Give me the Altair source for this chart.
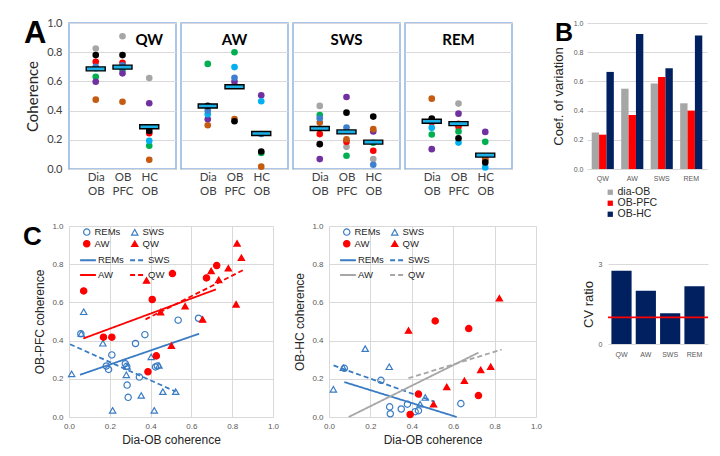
import altair as alt
import pandas as pd

FONT_A = "Lato"
FONT_B = "Liberation Sans"

# ---------------- Panel A: per-animal coherence ----------------
pairs = ["Dia-OB", "OB-PFC", "HC-OB"]
# animal colours (drawing order: black last)
animal_colors = ["#a6a6a6", "#ff0000", "#00b050", "#7030a0", "#c55a11", "#00b0f0", "#3f7fcf", "#000000"]

qw_dia_ob = [0.825, 0.734, 0.632, 0.598, 0.475, 0.690, 0.700, 0.780]
qw_ob_pfc = [0.909, 0.727, 0.680, 0.655, 0.461, 0.700, 0.710, 0.780]
qw_hc_ob = [0.623, 0.245, 0.159, 0.450, 0.063, 0.193, 0.280, 0.261]
aw_dia_ob = [None, None, 0.720, 0.341, 0.300, 0.375, 0.400, 0.432]
aw_ob_pfc = [None, None, 0.800, 0.598, 0.342, 0.698, 0.625, 0.327]
aw_hc_ob = [None, None, 0.110, 0.505, 0.016, 0.464, 0.240, 0.120]
sws_dia_ob = [0.432, 0.239, 0.370, 0.068, 0.318, None, 0.348, 0.170]
sws_ob_pfc = [0.152, 0.186, 0.091, 0.493, 0.204, None, 0.284, 0.386]
sws_hc_ob = [0.068, 0.125, 0.180, 0.257, 0.273, None, 0.029, 0.359]
rem_dia_ob = [0.330, 0.320, 0.236, 0.136, 0.482, 0.282, None, 0.345]
rem_ob_pfc = [0.448, 0.289, 0.257, 0.379, 0.310, 0.181, None, 0.211]
rem_hc_ob = [None, 0.072, 0.186, 0.254, 0.060, 0.011, None, 0.045]

qw_means = [0.686, 0.698, 0.289]
aw_means = [0.432, 0.563, 0.243]
sws_means = [0.277, 0.254, 0.184]
rem_means = [0.327, 0.311, 0.095]

# ---------------- Panel B: coefficient of variation ----------------
cv_states = ["QW", "AW", "SWS", "REM"]
cv_series = ["dia-OB", "OB-PFC", "OB-HC"]
cv_colors = ["#a6a6a6", "#ff0000", "#002060"]
cv_dia_ob = [0.250, 0.550, 0.585, 0.450]
cv_ob_pfc = [0.235, 0.370, 0.630, 0.400]
cv_ob_hc = [0.665, 0.925, 0.690, 0.915]

# ---------------- CV ratio ----------------
cv_ratio = [2.75, 2.00, 1.15, 2.17]

# ---------------- Panel C scatter ----------------
c_series = ["REMs", "SWS", "AW", "QW"]
c_fits = ["REMs_fit", "SWS_fit", "AW_fit", "QW_fit"]

# left: OB-PFC vs Dia-OB
l_rems_x = [0.058, 0.210, 0.183, 0.194, 0.276, 0.283, 0.326, 0.372, 0.345, 0.285, 0.290, 0.424, 0.433, 0.535, 0.635]
l_rems_y = [0.436, 0.325, 0.267, 0.249, 0.279, 0.265, 0.385, 0.431, 0.209, 0.167, 0.103, 0.262, 0.267, 0.507, 0.517]
l_sws_x = [0.013, 0.072, 0.060, 0.166, 0.281, 0.285, 0.214, 0.354, 0.403, 0.418, 0.441, 0.460, 0.523]
l_sws_y = [0.226, 0.551, 0.436, 0.386, 0.221, 0.265, 0.035, 0.113, 0.315, 0.035, 0.270, 0.133, 0.133]
l_aw_x = [0.072, 0.169, 0.210, 0.408, 0.507, 0.428, 0.387, 0.674, 0.724]
l_aw_y = [0.660, 0.418, 0.418, 0.615, 0.751, 0.320, 0.237, 0.728, 0.793]
l_qw_x = [0.380, 0.449, 0.569, 0.502, 0.655, 0.697, 0.734, 0.781, 0.819, 0.824, 0.845]
l_qw_y = [0.715, 0.549, 0.580, 0.373, 0.511, 0.765, 0.718, 0.779, 0.590, 0.909, 0.834]
# fit line end points (x0, y0, x1, y1)
l_fit_rems = [0.054, 0.221, 0.638, 0.436]
l_fit_sws = [0.005, 0.381, 0.523, 0.133]
l_fit_aw = [0.070, 0.411, 0.720, 0.668]
l_fit_qw = [0.375, 0.511, 0.852, 0.768]

# middle: OB-HC vs Dia-OB
m_rems_x = [0.074, 0.251, 0.293, 0.296, 0.349, 0.379, 0.416, 0.432, 0.637]
m_rems_y = [0.255, 0.192, 0.053, 0.017, 0.042, 0.067, 0.028, 0.033, 0.070]
m_sws_x = [0.021, 0.069, 0.175, 0.291, 0.465, 0.440]
m_sws_y = [0.145, 0.258, 0.358, 0.263, 0.102, 0.067]
m_aw_x = [0.513, 0.675, 0.432, 0.722, 0.392]
m_aw_y = [0.503, 0.463, 0.120, 0.112, 0.013]
m_qw_x = [0.384, 0.823, 0.569, 0.654, 0.733, 0.781, 0.505]
m_qw_y = [0.453, 0.622, 0.158, 0.190, 0.247, 0.263, 0.067]
m_fit_rems = [0.074, 0.183, 0.617, 0.000]
m_fit_sws = [0.022, 0.270, 0.510, 0.080]
m_fit_aw = [0.095, 0.000, 0.722, 0.337]
m_fit_qw = [0.384, 0.203, 0.834, 0.353]

BLUE = "#3a7cc3"
RED = "#ff0000"
GRID = "#d9d9d9"
ticks01 = [0.0, 0.2, 0.4, 0.6, 0.8, 1.0]


def letter_layer(letter, x, y, size):
    return alt.Chart(pd.DataFrame({"t": [letter]})).mark_text(
        font=FONT_B, fontSize=size, fontWeight="bold", align="left",
        baseline="alphabetic", color="#000000"
    ).encode(x=alt.value(x), y=alt.value(y), text="t:N")


def a_panel(state, cols, means, title_pair, first):
    rows = []
    for p, vals in zip(pairs, cols):
        for k, (c, v) in enumerate(zip(animal_colors, vals)):
            if v is not None:
                rows.append({"pair": p, "value": v, "col": c, "k": k})
    pts = pd.DataFrame(rows)
    mdf = pd.DataFrame({"pair": pairs, "mean": means})
    tdf = pd.DataFrame({"pair": [title_pair], "y": [0.885], "label": [state]})

    xscale = alt.Scale(type="point", padding=1, domain=pairs)
    xaxis = alt.Axis(title=None, labelExpr="split(datum.label, '-')", labelAngle=0,
                     ticks=False, domain=False, grid=False, labelFont=FONT_A,
                     labelFontSize=11.5, labelColor="#404040", labelPadding=2,
                     labelLineHeight=14)
    yscale = alt.Scale(domain=[0, 1], nice=False, zero=False)
    if first:
        yaxis = alt.Axis(values=ticks01, format=".1f", title="Coherence", titleFont=FONT_A,
                         titleFontSize=15, titleFontWeight="normal", titleColor="#262626",
                         labelFont=FONT_A, labelFontSize=11, labelColor="#404040",
                         labelFlush=False, ticks=False, domain=False, gridColor=GRID,
                         labelPadding=7, titlePadding=6)
    else:
        yaxis = alt.Axis(values=ticks01, labels=False, ticks=False, domain=False,
                         title=None, gridColor=GRID)
    x = alt.X("pair:N", scale=xscale, axis=xaxis)

    pts_layer = alt.Chart(pts).mark_circle(size=44, opacity=1).encode(
        x=x, y=alt.Y("value:Q", scale=yscale, axis=yaxis),
        color=alt.Color("col:N", scale=None), order=alt.Order("k:Q"))
    mean_layer = alt.Chart(mdf).mark_tick(
        size=19, thickness=4, color="#1cb0e6", stroke="#000000", strokeWidth=1.4, opacity=1
    ).encode(x=x, y=alt.Y("mean:Q", scale=yscale, axis=yaxis))
    text_layer = alt.Chart(tdf).mark_text(
        font=FONT_A, fontSize=15, fontWeight="bold", color="#000000"
    ).encode(x=x, y=alt.Y("y:Q", scale=yscale, axis=yaxis), text="label:N")
    layers = [pts_layer, mean_layer, text_layer]
    if first:
        layers.append(letter_layer("A", -45, 20, 31))
    return alt.layer(*layers).properties(
        width=107, height=146,
        view=alt.ViewBackground(stroke="#8eb4e3", strokeWidth=1.5))


a1 = a_panel("QW", [qw_dia_ob, qw_ob_pfc, qw_hc_ob], qw_means, "HC-OB", True)
a2 = a_panel("AW", [aw_dia_ob, aw_ob_pfc, aw_hc_ob], aw_means, "OB-PFC", False)
a3 = a_panel("SWS", [sws_dia_ob, sws_ob_pfc, sws_hc_ob], sws_means, "OB-PFC", False)
a4 = a_panel("REM", [rem_dia_ob, rem_ob_pfc, rem_hc_ob], rem_means, "OB-PFC", False)

# ---- Panel B ----
brows = []
for s, vals in zip(cv_series, [cv_dia_ob, cv_ob_pfc, cv_ob_hc]):
    for st, v in zip(cv_states, vals):
        brows.append({"state": st, "series": s, "cv": v})
bdf = pd.DataFrame(brows)
b_bars = alt.Chart(bdf).mark_bar().encode(
    x=alt.X("state:N", sort=cv_states,
            scale=alt.Scale(paddingInner=0.25, paddingOuter=0.16),
            axis=alt.Axis(title=None, labelAngle=0, ticks=False, domain=False,
                          labelFont=FONT_B, labelFontSize=7, labelColor="#595959",
                          labelPadding=5)),
    xOffset=alt.XOffset("series:N", sort=cv_series,
                        scale=alt.Scale(paddingInner=0, paddingOuter=0)),
    y=alt.Y("cv:Q", scale=alt.Scale(domain=[0, 1], nice=False),
            axis=alt.Axis(values=ticks01, format=".1f", title="Coef. of variation",
                          titleFont=FONT_B, titleFontSize=13, titleFontWeight="normal",
                          titleColor="#262626", labelFont=FONT_B, labelFontSize=7,
                          labelColor="#595959", labelFlush=False, ticks=False, domain=False,
                          gridColor=GRID, labelPadding=4, titlePadding=8)),
    color=alt.Color("series:N", sort=cv_series,
                    scale=alt.Scale(domain=cv_series, range=cv_colors),
                    legend=alt.Legend(orient="none", legendX=18, legendY=164, title=None,
                                      symbolType="square", symbolSize=28,
                                      labelFont=FONT_B, labelFontSize=10.5,
                                      labelColor="#262626", rowPadding=0,
                                      labelOffset=2, padding=0)),
)
b_panel = alt.layer(b_bars, letter_layer("B", -32, 18, 25)).properties(
    width=120, height=146, view=alt.ViewBackground(stroke="transparent"))


# ---- Panel C ----
def c_panel(xs_list, ys_list, fits, ytitle, line_colors, width, letter):
    rows = []
    for s, xs, ys in zip(c_series, xs_list, ys_list):
        for a, b in zip(xs, ys):
            rows.append({"series": s, "x": a, "y": b})
    pdf = pd.DataFrame(rows)
    frows = []
    for s, f in zip(c_fits, fits):
        frows.append({"fit": s, "x": f[0], "y": f[1], "o": 0})
        frows.append({"fit": s, "x": f[2], "y": f[3], "o": 1})
    fdf = pd.DataFrame(frows)

    sc = alt.Scale(domain=[0, 1], nice=False, zero=False)
    xaxis = alt.Axis(values=ticks01, format=".1f", title="Dia-OB coherence",
                     titleFont=FONT_B, titleFontSize=12, titleFontWeight="normal",
                     titleColor="#262626", labelFont=FONT_B, labelFontSize=8,
                     labelColor="#595959", labelFlush=False, ticks=False, domain=False,
                     gridColor=GRID, labelPadding=5, titlePadding=4)
    yaxis = alt.Axis(values=ticks01, format=".1f", title=ytitle,
                     titleFont=FONT_B, titleFontSize=12, titleFontWeight="normal",
                     titleColor="#262626", labelFont=FONT_B, labelFontSize=8,
                     labelColor="#595959", labelFlush=False, ticks=False, domain=False,
                     gridColor=GRID, labelPadding=6, titlePadding=5)
    pleg = alt.Legend(orient="none", legendX=13, legendY=1, columns=2, direction="horizontal",
                      title=None, labelFont=FONT_B, labelFontSize=9.5, labelColor="#262626",
                      symbolSize=40, symbolStrokeWidth=1.2, columnPadding=8,
                      rowPadding=0, labelOffset=3, padding=0)
    lleg = alt.Legend(orient="none", legendX=10, legendY=25, columns=2, direction="horizontal",
                      title=None, labelFont=FONT_B, labelFontSize=9.5, labelColor="#262626",
                      labelExpr="split(datum.label, '_')[0]",
                      symbolType="stroke", symbolSize=250, symbolStrokeWidth=2,
                      columnPadding=2, rowPadding=1, labelOffset=1, padding=0)
    pts = alt.Chart(pdf).mark_point(size=40, strokeWidth=1.2, opacity=1, filled=False).encode(
        x=alt.X("x:Q", scale=sc, axis=xaxis),
        y=alt.Y("y:Q", scale=sc, axis=yaxis),
        shape=alt.Shape("series:N", scale=alt.Scale(domain=c_series,
                        range=["circle", "triangle-up", "circle", "triangle-up"]), legend=pleg),
        stroke=alt.Stroke("series:N", scale=alt.Scale(domain=c_series,
                          range=[BLUE, BLUE, RED, RED]), legend=pleg),
        fill=alt.Fill("series:N", scale=alt.Scale(domain=c_series,
                      range=["transparent", "transparent", RED, RED]), legend=pleg),
    )
    lines = alt.Chart(fdf).mark_line(strokeWidth=1.8).encode(
        x=alt.X("x:Q", scale=sc, axis=xaxis),
        y=alt.Y("y:Q", scale=sc, axis=yaxis),
        color=alt.Color("fit:N", scale=alt.Scale(domain=c_fits, range=line_colors),
                        legend=lleg),
        strokeDash=alt.StrokeDash("fit:N", scale=alt.Scale(domain=c_fits,
                                  range=[[1, 0], [5, 3], [1, 0], [5, 3]]), legend=lleg),
        order=alt.Order("o:Q"),
    )
    layers = [lines, pts]
    if letter:
        layers.append(letter_layer(letter, -46, 19, 26))
    return alt.layer(*layers).properties(
        width=width, height=191, view=alt.ViewBackground(stroke="transparent"))


c1 = c_panel([l_rems_x, l_sws_x, l_aw_x, l_qw_x], [l_rems_y, l_sws_y, l_aw_y, l_qw_y],
             [l_fit_rems, l_fit_sws, l_fit_aw, l_fit_qw], "OB-PFC coherence",
             [BLUE, BLUE, RED, RED], 204, "C")
c2 = c_panel([m_rems_x, m_sws_x, m_aw_x, m_qw_x], [m_rems_y, m_sws_y, m_aw_y, m_qw_y],
             [m_fit_rems, m_fit_sws, m_fit_aw, m_fit_qw], "OB-HC coherence",
             [BLUE, BLUE, "#a6a6a6", "#a6a6a6"], 207, None)

# ---- CV ratio ----
cvdf = pd.DataFrame({"state": cv_states, "ratio": cv_ratio})
cv_bars = alt.Chart(cvdf).mark_bar(color="#002060").encode(
    x=alt.X("state:N", sort=cv_states, scale=alt.Scale(paddingInner=0.17, paddingOuter=0.14),
            axis=alt.Axis(title=None, labelAngle=0, ticks=False, domain=False,
                          labelFont=FONT_B, labelFontSize=7, labelColor="#595959",
                          labelPadding=6)),
    y=alt.Y("ratio:Q", scale=alt.Scale(domain=[0, 3], nice=False),
            axis=alt.Axis(values=[0, 1, 2, 3], format="d", title="CV ratio",
                          titleFont=FONT_B, titleFontSize=13, titleFontWeight="normal",
                          titleColor="#262626", labelFont=FONT_B, labelFontSize=7,
                          labelColor="#595959", labelFlush=False, ticks=False, domain=False,
                          gridColor=GRID, labelPadding=6, titlePadding=3)),
)
cv_rule = alt.Chart(pd.DataFrame({"level": [1]})).mark_rule(color=RED, strokeWidth=1.6).encode(
    y=alt.Y("level:Q"))
cv_panel = alt.layer(cv_bars, cv_rule).properties(
    width=100, height=80, view=alt.ViewBackground(stroke="transparent"))

spacer = alt.Chart(pd.DataFrame({"v": [0.5]})).mark_point(opacity=0, size=1).encode(
    x=alt.X("v:Q", axis=None, scale=alt.Scale(domain=[0, 1])),
    y=alt.Y("v:Q", axis=None, scale=alt.Scale(domain=[0, 1]))
).properties(width=100, height=23, view=alt.ViewBackground(stroke="transparent"))

IND = dict(color="independent", fill="independent", stroke="independent",
           shape="independent", strokeDash="independent")


def resolve(ch):
    return ch.resolve_scale(**IND).resolve_legend(**IND)


a_row = resolve(alt.hconcat(a1, a2, a3, a4, spacing=5, bounds="flush"))
top = resolve(alt.hconcat(a_row, b_panel, spacing=38))
c_row = resolve(alt.hconcat(c1, c2, spacing=56, bounds="flush"))
cv_col = resolve(alt.vconcat(spacer, cv_panel, spacing=9))
bottom = resolve(alt.hconcat(c_row, cv_col, spacing=38))

chart = resolve(alt.vconcat(top, bottom, spacing=0)).properties(
    padding={"left": 14, "top": 8, "right": 0, "bottom": 0},
    background="white",
)

chart.save("out.html", embed_options={"renderer": "svg", "actions": False})
